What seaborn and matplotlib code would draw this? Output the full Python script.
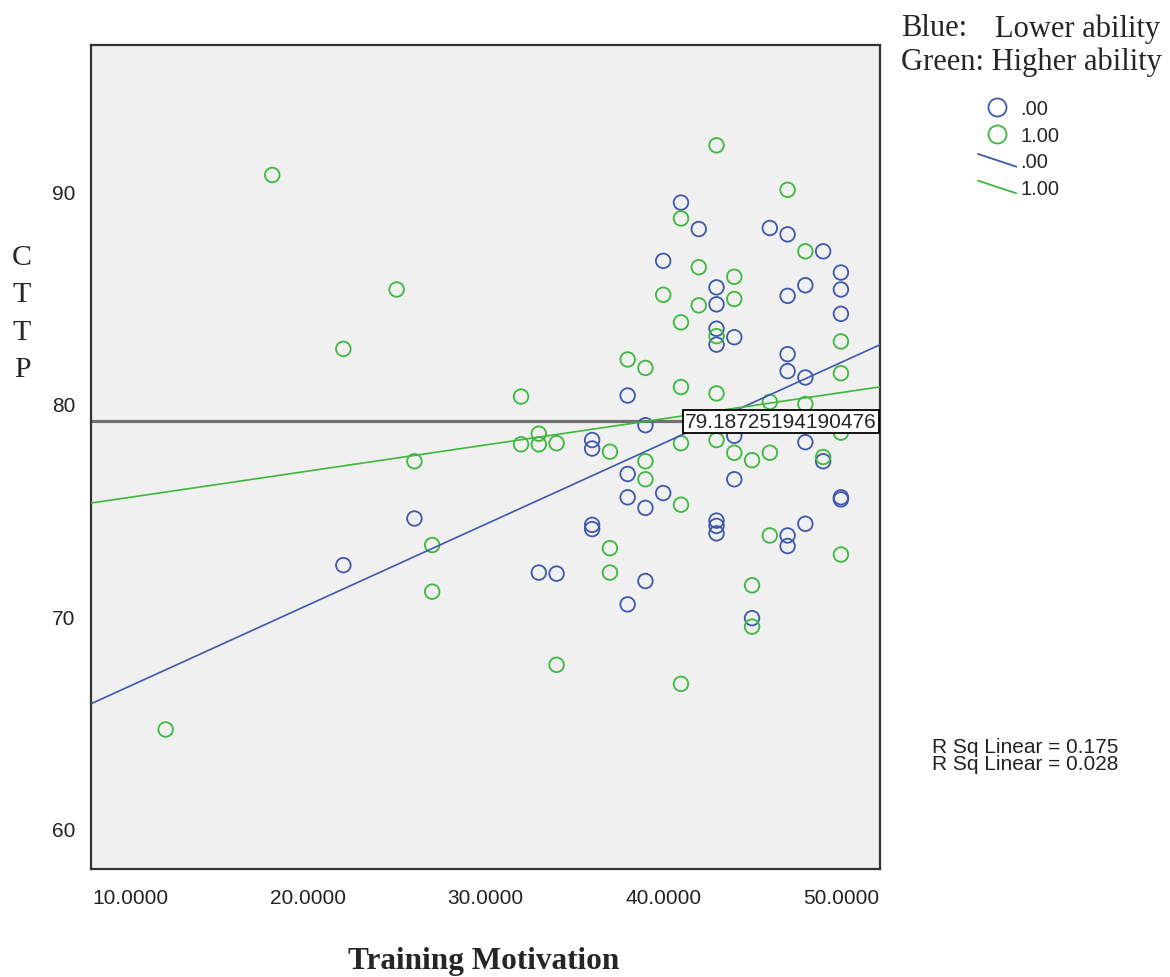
import numpy as np
import pandas as pd
import seaborn as sns
import matplotlib.pyplot as plt
from matplotlib.lines import Line2D
from matplotlib.legend_handler import HandlerBase

# group .00 (lower ability) - training motivation / CTTP
low_tm = [22, 26, 33, 34, 36, 36, 36, 36, 38, 38, 38, 38, 39, 39, 39, 40, 40,
          41, 42, 43, 43, 43, 43, 43, 43, 43, 44, 44, 44, 45, 46, 47, 47, 47,
          47, 47, 47, 48, 48, 48, 48, 49, 49, 50, 50, 50, 50, 50]
low_cttp = [72.4, 74.6, 72.05, 72.0, 78.3, 77.9, 74.3, 74.1, 80.4, 76.7, 75.6,
            70.55, 79.0, 75.1, 71.65, 86.75, 75.8, 89.5, 88.25, 85.5, 84.7,
            83.55, 82.8, 74.5, 74.25, 73.9, 83.15, 78.5, 76.45, 69.9, 88.3,
            88.0, 85.1, 82.35, 81.55, 73.8, 73.3, 85.6, 81.25, 78.2, 74.35,
            87.2, 77.3, 86.2, 85.4, 84.25, 75.6, 75.5]

# group 1.00 (higher ability)
high_tm = [12, 18, 22, 25, 26, 27, 27, 32, 32, 33, 33, 34, 34, 37, 37, 37, 38,
           39, 39, 39, 40, 41, 41, 41, 41, 41, 41, 42, 42, 43, 43, 43, 43, 44,
           44, 44, 45, 45, 45, 46, 46, 46, 47, 48, 48, 49, 50, 50, 50, 50]
high_cttp = [64.65, 90.8, 82.6, 85.4, 77.3, 73.35, 71.15, 80.35, 78.1, 78.6,
             78.1, 78.15, 67.7, 77.75, 73.2, 72.05, 82.1, 81.7, 77.3, 76.45,
             85.15, 88.75, 83.85, 80.8, 78.15, 75.25, 66.8, 86.45, 84.65, 92.2,
             83.2, 80.5, 78.3, 86.0, 84.95, 77.7, 77.35, 71.45, 69.5, 80.1,
             77.7, 73.8, 90.1, 87.2, 80.0, 77.5, 82.95, 81.45, 78.65, 72.9]

ref_value = 79.18725194190476
r_sq_text = ["R Sq Linear = 0.175", "R Sq Linear = 0.028"]
x_ticks = [10, 20, 30, 40, 50]
x_tick_labels = ["10.0000", "20.0000", "30.0000", "40.0000", "50.0000"]
y_ticks = [60, 70, 80, 90]
y_tick_labels = ["60", "70", "80", "90"]
group_labels = [".00", "1.00"]

blue = "#3e58ac"
green = "#3cb83c"

df = pd.concat([
    pd.DataFrame({"tm": low_tm, "cttp": low_cttp, "grp": ".00"}),
    pd.DataFrame({"tm": high_tm, "cttp": high_cttp, "grp": "1.00"}),
])

sns.set_style("white")
plt.rcParams["font.family"] = ["Liberation Sans", "DejaVu Sans"]

W, H = 1170, 978
fig = plt.figure(figsize=(W / 100, H / 100), dpi=100)
ax = fig.add_axes([91 / W, 1 - 870 / H, (880 - 91) / W, (870 - 46) / H])
ax.set_facecolor("#f0f0f0")
ax.set_xlim(7.8, 52.2)
ax.set_ylim(58.07, 96.93)

# horizontal reference line at the mean
ax.axhline(ref_value, color="#707070", lw=2.3, zorder=1)

for g, col in zip(group_labels, [blue, green]):
    sub = df[df.grp == g]
    sns.regplot(data=sub, x="tm", y="cttp", ax=ax, ci=None, truncate=False,
                color=col, marker="o",
                scatter_kws=dict(facecolors="none", s=110, linewidths=1.3, alpha=1, zorder=2),
                line_kws=dict(lw=1.2, zorder=3))

ax.text(0.996, ref_value, "79.18725194190476", transform=ax.get_yaxis_transform(),
        ha="right", va="center", fontsize=15, zorder=6,
        bbox=dict(boxstyle="square,pad=0.1", fc="white", ec="black", lw=1.3))

ax.set_xticks(x_ticks)
ax.set_xticklabels(x_tick_labels)
ax.set_yticks(y_ticks)
ax.set_yticklabels(y_tick_labels)
ax.set_xlabel("")
ax.set_ylabel("")
ax.tick_params(direction="out", length=9.5, width=1.6, color="#333333",
               labelsize=15, labelcolor="#222222", pad=2)
ax.tick_params(axis="x", pad=4)
for s in ax.spines.values():
    s.set_color("#333333")
    s.set_linewidth(1.6)


class DiagLine(HandlerBase):
    # slanted line glyph like the SPSS legend
    def create_artists(self, legend, orig, xd, yd, w, h, fontsize, trans):
        ln = Line2D([-xd, -xd + w], [-yd + h * 0.95, -yd + h * 0.05],
                    color=orig.get_color(), lw=orig.get_linewidth(), transform=trans)
        return [ln]


handles = [
    Line2D([], [], ls="none", marker="o", mfc="none", mec=blue, ms=13, mew=1.3),
    Line2D([], [], ls="none", marker="o", mfc="none", mec=green, ms=13, mew=1.3),
    Line2D([], [], color=blue, lw=1.3),
    Line2D([], [], color=green, lw=1.3),
]
fig.legend(handles, group_labels + group_labels, loc="upper left",
           bbox_to_anchor=(968 / W, 1 - 90 / H), frameon=False, fontsize=14.5,
           handlelength=1.9, handletextpad=0.2, labelspacing=0.38, borderpad=0,
           handler_map={handles[2]: DiagLine(), handles[3]: DiagLine()})

serif = ["Liberation Serif", "DejaVu Serif"]
fig.text(901 / W, 1 - 29 / H, "Blue:", family=serif, fontsize=22, va="center")
fig.text(1160 / W, 1 - 29 / H, "Lower ability", family=serif, fontsize=22,
         va="center", ha="right")
fig.text(901 / W, 1 - 62 / H, "Green: Higher ability", family=serif, fontsize=22, va="center")

fig.text(22 / W, 1 - 314 / H, "C\nT\nT\nP", family=serif, fontsize=21.5,
         ha="center", va="center", linespacing=1.56)
fig.text(484 / W, 1 - 962 / H, "Training Motivation", family=serif, fontsize=22.5,
         weight="bold", ha="center", va="center")

fig.text(932 / W, 1 - 756 / H, "\n".join(r_sq_text), fontsize=15,
         va="center", linespacing=0.9, color="#222222")

fig.savefig("out.png", dpi=100)
